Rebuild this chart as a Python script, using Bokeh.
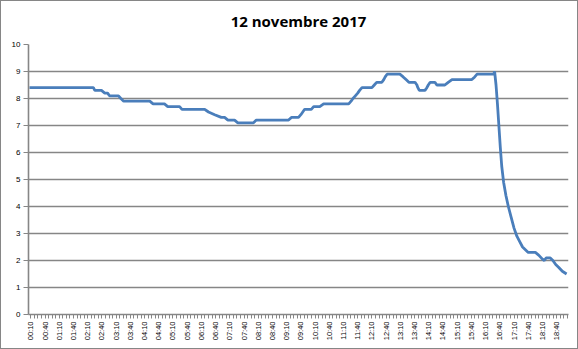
from bokeh.plotting import figure
from bokeh.models import FixedTicker, Range1d, Title
from bokeh.embed import file_html
from bokeh.resources import INLINE

# Times (HH:MM) and water level values
times = ["00:07", "02:22", "02:25", "02:39", "02:46", "02:52", "02:56", "03:15", "03:20", "03:26",
         "04:21", "04:28", "04:52", "04:59", "05:24", "05:29", "06:17", "06:25", "06:38", "06:52",
         "06:59", "07:06", "07:20", "07:27", "08:00", "08:06", "09:14", "09:20", "09:35", "09:40",
         "09:44", "09:48", "10:02", "10:07", "10:20", "10:28", "11:21", "11:26", "11:30", "11:35",
         "11:40", "11:44", "11:49", "12:10", "12:15", "12:20", "12:31", "12:35", "12:38", "12:42",
         "13:09", "13:16", "13:22", "13:28", "13:41", "13:45", "13:47", "13:50", "14:02", "14:06",
         "14:09", "14:13", "14:23", "14:27", "14:44", "14:51", "14:59", "15:41", "15:47", "15:52",
         "16:27", "16:29", "16:32", "16:35", "16:38", "16:41", "16:44", "16:48", "16:53", "16:58",
         "17:04", "17:10", "17:16", "17:22", "17:28", "17:34", "17:40", "17:55", "18:02", "18:10",
         "18:14", "18:18", "18:26", "18:32", "18:38", "18:44", "18:52", "19:01"]
values = [8.4, 8.4, 8.3, 8.3, 8.2, 8.2, 8.1, 8.1, 8.0, 7.9,
          7.9, 7.8, 7.8, 7.7, 7.7, 7.6, 7.6, 7.5, 7.4, 7.3,
          7.3, 7.2, 7.2, 7.1, 7.1, 7.2, 7.2, 7.3, 7.3, 7.4,
          7.5, 7.6, 7.6, 7.7, 7.7, 7.8, 7.8, 7.9, 8.0, 8.1,
          8.2, 8.3, 8.4, 8.4, 8.5, 8.6, 8.6, 8.7, 8.8, 8.9,
          8.9, 8.8, 8.7, 8.6, 8.6, 8.5, 8.4, 8.3, 8.3, 8.4,
          8.5, 8.6, 8.6, 8.5, 8.5, 8.6, 8.7, 8.7, 8.8, 8.9,
          8.9, 9.0, 8.5, 7.8, 7.0, 6.2, 5.5, 4.9, 4.4, 4.0,
          3.6, 3.2, 2.9, 2.7, 2.5, 2.4, 2.3, 2.3, 2.2, 2.05,
          2.0, 2.1, 2.1, 2.0, 1.85, 1.75, 1.6, 1.5]

tick_labels = ["00:10", "00:40", "01:10", "01:40", "02:10", "02:40", "03:10", "03:40", "04:10", "04:40",
               "05:10", "05:40", "06:10", "06:40", "07:10", "07:40", "08:10", "08:40", "09:10", "09:40",
               "10:10", "10:40", "11:10", "11:40", "12:10", "12:40", "13:10", "13:40", "14:10", "14:40",
               "15:10", "15:40", "16:10", "16:40", "17:10", "17:40", "18:10", "18:40"]
y_ticks = [0, 1, 2, 3, 4, 5, 6, 7, 8, 9, 10]


def to_min(s):
    h, m = s.split(":")
    return int(h) * 60 + int(m)


xs = [to_min(t) for t in times]
tick_pos = [to_min(t) for t in tick_labels]

p = figure(width=578, height=349, output_backend="svg", toolbar_location=None,
           x_range=Range1d(5, 1145), y_range=Range1d(0, 10),
           min_border_left=27, min_border_right=11, min_border_top=43, min_border_bottom=36)

p.title = Title(text="12 novembre 2017", align="center",
                text_font="Open Sans", text_font_size="15px", text_font_style="bold",
                text_color="#000000", offset=0, standoff=2)
# empty spacer title between the chart title and the plot area
p.add_layout(Title(text=" ", text_font_size="10px", standoff=0), "above")

p.line(xs, values, line_color="#4a7ebb", line_width=2.8)

p.outline_line_color = None
p.background_fill_color = "white"
p.border_fill_color = "white"

p.xgrid.grid_line_color = None
p.ygrid.grid_line_color = "#868686"
p.ygrid.grid_line_width = 1.6
p.ygrid.ticker = FixedTicker(ticks=y_ticks)

p.yaxis.ticker = FixedTicker(ticks=y_ticks)
p.yaxis.axis_line_color = "#868686"
p.yaxis.axis_line_width = 1.6
p.yaxis.major_tick_line_color = "#868686"
p.yaxis.major_tick_in = 0
p.yaxis.major_tick_out = 5
p.yaxis.minor_tick_line_color = None
p.yaxis.major_label_text_font = "Liberation Sans"
p.yaxis.major_label_text_font_size = "8px"
p.yaxis.major_label_text_color = "#000000"
p.yaxis.major_label_standoff = 3

minor = [t + d for t in [tick_pos[0] - 30] + tick_pos for d in (7.5, 15, 22.5)]
p.xaxis.ticker = FixedTicker(ticks=tick_pos, minor_ticks=minor)
p.xaxis.major_label_overrides = {tp: lab for tp, lab in zip(tick_pos, tick_labels)}
p.xaxis.major_label_orientation = 1.5708
p.xaxis.axis_line_color = "#868686"
p.xaxis.axis_line_width = 1.6
p.xaxis.major_tick_line_color = "#868686"
p.xaxis.major_tick_in = 0
p.xaxis.major_tick_out = 4
p.xaxis.minor_tick_line_color = "#868686"
p.xaxis.minor_tick_in = 0
p.xaxis.minor_tick_out = 4
p.xaxis.major_label_text_font = "Liberation Sans"
p.xaxis.major_label_text_font_size = "7.5px"
p.xaxis.major_label_text_color = "#000000"
p.xaxis.major_label_standoff = 3

p.styles = {"border": "1px solid #868686", "box-sizing": "border-box"}

open("out.html", "w").write(file_html(p, INLINE))
